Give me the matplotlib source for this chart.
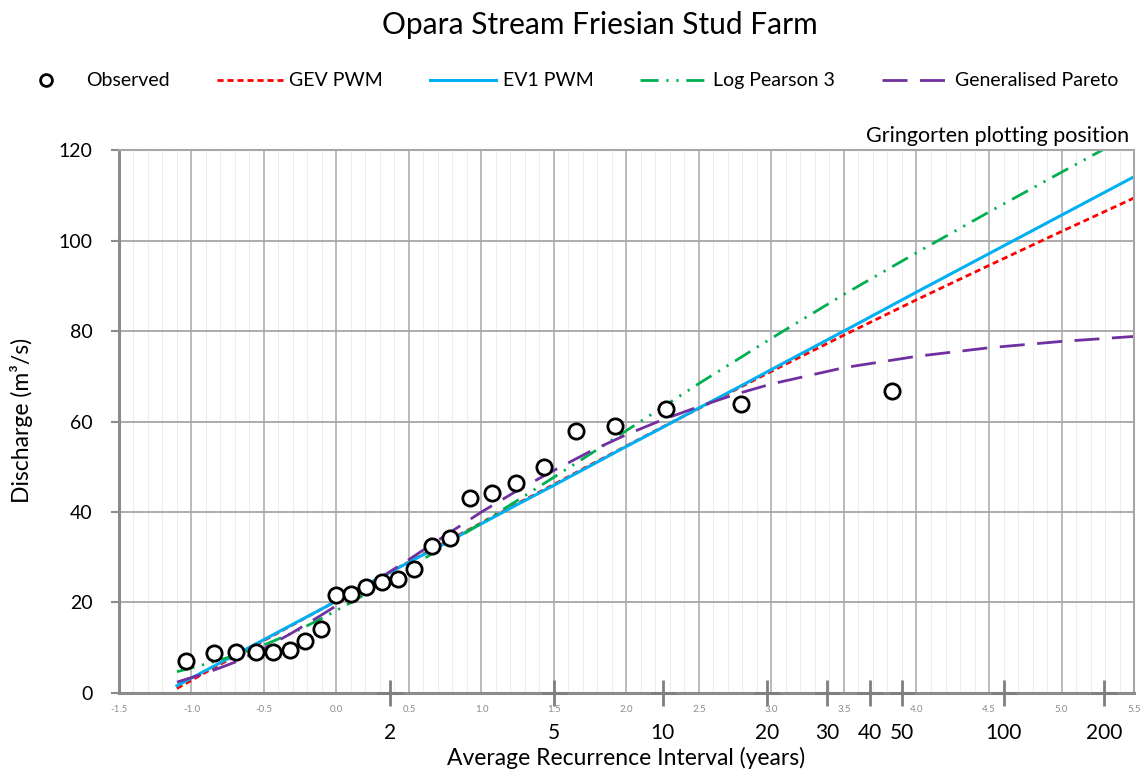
import numpy as np
import matplotlib
matplotlib.use("Agg")
import matplotlib.pyplot as plt
import matplotlib.transforms as mtransforms
from matplotlib.lines import Line2D
from matplotlib.ticker import MultipleLocator, FormatStrFormatter

plt.rcParams["font.family"] = ["Lato", "DejaVu Sans"]

# Observed annual maxima at their Gringorten reduced variates
obs_variate = [-1.036, -0.843, -0.690, -0.557, -0.437, -0.323, -0.215, -0.109,
               -0.005, 0.099, 0.205, 0.312, 0.422, 0.537, 0.658, 0.786, 0.924,
               1.074, 1.241, 1.430, 1.651, 1.920, 2.271, 2.787, 3.832]
obs_flow = [7.0, 8.9, 9.0, 9.0, 9.1, 9.4, 11.5, 14.1, 21.7, 21.8, 23.5, 24.6,
            25.3, 27.3, 32.5, 34.3, 43.0, 44.1, 46.5, 49.9, 58.0, 58.9, 62.8,
            63.9, 66.8]

# Fitted frequency curves, sampled on the Gumbel reduced variate
variate = [-1.1, -0.9, -0.7, -0.5, -0.3, -0.1, 0.1, 0.3, 0.5, 0.75, 1.0, 1.25,
           1.5, 1.75, 2.0, 2.25, 2.5, 2.75, 3.0, 3.5, 4.0, 4.5, 5.0, 5.5]
gev_pwm = [1.0, 4.6, 8.1, 11.6, 15.1, 18.6, 22.1, 25.5, 29.0, 33.3, 37.6, 41.9,
           46.1, 50.4, 54.6, 58.8, 62.9, 67.0, 71.1, 79.1, 86.9, 94.5, 102.0, 109.4]
ev1_pwm = [1.6, 5.0, 8.4, 11.8, 15.2, 18.6, 22.1, 25.5, 28.9, 33.1, 37.4, 41.7,
           45.9, 50.2, 54.5, 58.7, 63.0, 67.2, 71.5, 80.0, 88.6, 97.1, 105.6, 114.1]
lp3 = [4.7, 6.4, 8.3, 10.6, 13.3, 16.5, 20.0, 23.7, 27.6, 32.6, 37.6, 42.6,
       47.7, 52.8, 58.0, 63.2, 68.4, 73.4, 78.4, 88.1, 97.3, 106.3, 115.1, 123.8]
gen_pareto = [2.4, 4.4, 6.8, 9.8, 13.4, 17.3, 21.3, 25.4, 29.5, 34.8, 40.0, 44.8,
              49.2, 53.4, 57.1, 60.4, 63.3, 66.0, 68.3, 71.9, 74.4, 76.3, 77.7, 78.8]

ari_years = [2, 5, 10, 20, 30, 40, 50, 100, 200]

RED = "#FF0000"
BLUE = "#00B0F0"
GREEN = "#00B050"
PURPLE = "#7030A0"
AXIS_GREY = "#8C8C8C"

fig = plt.figure(figsize=(11.45, 7.71), dpi=100)
ax = fig.add_axes([0.1039, 0.1012, 0.8865, 0.7042])

ax.set_xlim(-1.5, 5.5)
ax.set_ylim(0, 120)

# grid: faint minor lines every 0.1, darker every 0.5 and every 20 m3/s
ax.xaxis.set_major_locator(MultipleLocator(0.5))
ax.xaxis.set_minor_locator(MultipleLocator(0.1))
ax.yaxis.set_major_locator(MultipleLocator(20))
ax.xaxis.set_major_formatter(FormatStrFormatter("%.1f"))
ax.grid(which="minor", axis="x", color="#EDEDED", lw=0.8)
ax.grid(which="major", axis="x", color="#B4B4B4", lw=1.3)
ax.grid(which="major", axis="y", color="#A6A6A6", lw=1.3)
ax.set_axisbelow(True)

for side in ["left", "bottom"]:
    ax.spines[side].set_color(AXIS_GREY)
    ax.spines[side].set_linewidth(2.2)
for side in ["right", "top"]:
    ax.spines[side].set_color("#A6A6A6")
    ax.spines[side].set_linewidth(1.5)

ax.tick_params(axis="x", which="both", length=0, pad=9, labelsize=7,
               labelcolor="#8C8C8C")
ax.tick_params(axis="y", which="major", length=6, width=1.5, color=AXIS_GREY,
               labelsize=14, pad=13)

ax.plot(variate, gev_pwm, color=RED, lw=2.0, ls=(0, (2.2, 1.4)))
ax.plot(variate, ev1_pwm, color=BLUE, lw=2.2, ls="-")
ax.plot(variate, lp3, color=GREEN, lw=2.0, ls=(0, (6.5, 2.8, 0.8, 2.8, 0.8, 2.8)))
ax.plot(variate, gen_pareto, color=PURPLE, lw=2.0, ls=(0, (9, 4.5)))
ax.plot(obs_variate, obs_flow, ls="none", marker="o", ms=11, mfc="white",
        mec="black", mew=2.0, zorder=5)

# average recurrence interval scale on the reduced variate axis
ari_pos = [-np.log(-np.log(1.0 - 1.0 / t)) for t in ari_years]
ax.plot(ari_pos, [0] * len(ari_pos), ls="none", marker="+", ms=19, mew=2.0,
        color="#7F7F7F", clip_on=False, zorder=6)
trans = mtransforms.blended_transform_factory(ax.transData, ax.transAxes)
for pos, t in zip(ari_pos, ari_years):
    ax.text(pos, -0.074, str(t), transform=trans, ha="center", va="center",
            fontsize=15)

fig.text(0.524, 0.967, "Opara Stream Friesian Stud Farm", ha="center",
         va="center", fontsize=21.5)
fig.text(0.547, 0.017, "Average Recurrence Interval (years)", ha="center",
         va="center", fontsize=16.5)
fig.text(0.019, 0.455, "Discharge (m\u00b3/s)", ha="center", va="center",
         rotation=90, fontsize=16.5)
fig.text(0.986, 0.823, "Gringorten plotting position", ha="right",
         va="center", fontsize=15.5)

handles = [
    Line2D([], [], ls="none", marker="o", ms=8.5, mfc="white", mec="black", mew=2.0),
    Line2D([], [], color=RED, lw=2.0, ls=(0, (2.2, 1.4))),
    Line2D([], [], color=BLUE, lw=2.2),
    Line2D([], [], color=GREEN, lw=2.0, ls=(0, (6.5, 2.8, 0.8, 2.8, 0.8, 2.8))),
    Line2D([], [], color=PURPLE, lw=2.0, ls=(0, (9, 4.5))),
]
labels = ["Observed", "GEV PWM", "EV1 PWM", "Log Pearson 3", "Generalised Pareto"]
fig.legend(handles, labels, loc="center", bbox_to_anchor=(0.494, 0.895),
           ncol=5, frameon=False, fontsize=14, handlelength=3.4,
           handletextpad=0.35, columnspacing=2.4)

fig.savefig("out.png", dpi=100)
